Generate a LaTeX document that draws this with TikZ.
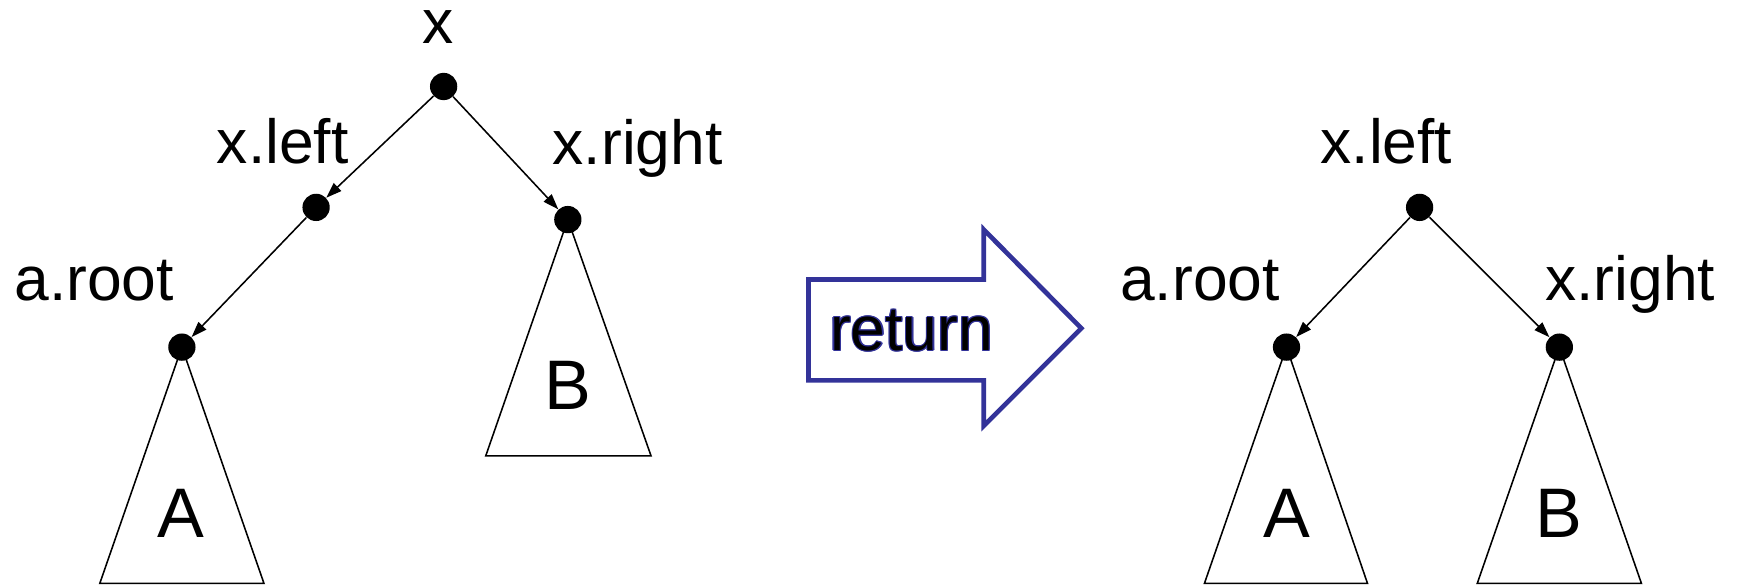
\documentclass[tikz,border=0pt]{standalone}
\usepackage{fontspec}
\setmainfont{Liberation Sans}
\usetikzlibrary{arrows.meta}
\definecolor{arrowblue}{RGB}{51,51,153}
\tikzset{
  dot/.style={circle,fill=black,inner sep=0pt,minimum size=14pt},
  lbl/.style={anchor=base,inner sep=0pt,font=\fontsize{32}{36}\selectfont},
  big/.style={anchor=base,inner sep=0pt,font=\fontsize{36}{40}\selectfont},
  ptr/.style={line width=0.8pt,-{Triangle[length=8pt,width=5.5pt]}},
  tree/.style={line width=0.8pt},
  bigarrow/.style={draw=arrowblue,line width=2.4pt,fill=white,line join=miter}
}
\begin{document}
\begin{tikzpicture}[x=0.02cm,y=0.02cm]
\useasboundingbox (0,0) rectangle (1568,530);
% ---------- left tree ----------
\draw[tree] (164,217) -- (90,4) -- (238,4) -- cycle;
\draw[tree] (512,332) -- (438,119) -- (587,119) -- cycle;
\node[dot] (xr) at (400,452) {};
\node[dot] (xl) at (285,343) {};
\node[dot] (xrr) at (512,332) {};
\node[dot] (ar) at (164,217) {};
\draw[ptr] (xr) -- (xl);
\draw[ptr] (xr) -- (xrr);
\draw[ptr] (xl) -- (ar);
\node[lbl] (tx) at (395,491) {x};
\node[lbl] (txl) at (255,383) {x.left};
\node[lbl] (txr) at (575,382) {x.right};
\node[lbl] (tar) at (85,259) {a.root};
\node[big] (tA) at (163,45) {A};
\node[big] (tB) at (512,161) {B};
% ---------- return arrow ----------
\draw[bigarrow] (729,278) -- (887,278) -- (887,323) -- (975,234) -- (887,146) -- (887,187) -- (729,187) -- cycle;
\foreach \dx/\dy in {1.2/0,-1.2/0,0/1.2,0/-1.2,0.85/0.85,-0.85/0.85,0.85/-0.85,-0.85/-0.85}
  \node[lbl,text=arrowblue] at (822+\dx,214+\dy) {return};
\node[lbl] (tret) at (822,214) {return};
% ---------- right tree ----------
\draw[tree] (1160,217) -- (1086,4) -- (1233,4) -- cycle;
\draw[tree] (1406,217) -- (1332,4) -- (1480,4) -- cycle;
\node[dot] (rt) at (1280,343) {};
\node[dot] (ra) at (1160,217) {};
\node[dot] (rb) at (1406,217) {};
\draw[ptr] (rt) -- (ra);
\draw[ptr] (rt) -- (rb);
\node[lbl] (rtxl) at (1250,383) {x.left};
\node[lbl] (rtar) at (1082,259) {a.root};
\node[lbl] (rtxr) at (1470,259) {x.right};
\node[big] (rtA) at (1160,45) {A};
\node[big] (rtB) at (1406,45) {B};
\end{tikzpicture}
\end{document}
